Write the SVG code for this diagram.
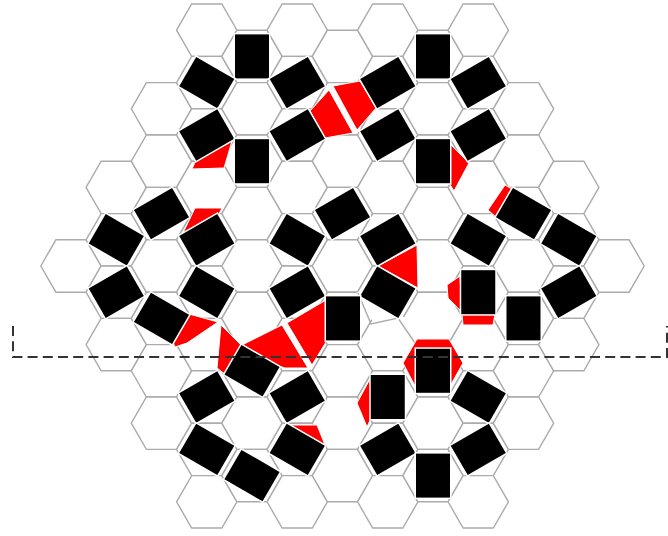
<svg xmlns="http://www.w3.org/2000/svg" xmlns:xlink="http://www.w3.org/1999/xlink" width="668" height="536" viewBox="0 0 668 536">
<style>
.hex{fill:#fff;stroke:#ababab;stroke-width:1.4}
.red{fill:#f00;stroke:#fff;stroke-width:1;stroke-linejoin:round}
.tile{fill:#000;stroke:#fff;stroke-width:3;paint-order:stroke}
.dash{fill:none;stroke:#333;stroke-width:2;stroke-dasharray:10 5.2}
</style>
<defs>
<polygon id="h" class="hex" points="-30.2,0 -15.1,-26.2 15.1,-26.2 30.2,0 15.1,26.2 -15.1,26.2"/>
<rect id="t" class="tile" x="-17" y="-22" width="34" height="44"/>
</defs>
<rect width="668" height="536" fill="#fff"/>
<g id="grid">
<use href="#h" x="71" y="266"/>
<use href="#h" x="116.25" y="187.4"/><use href="#h" x="116.25" y="239.8"/><use href="#h" x="116.25" y="292.2"/><use href="#h" x="116.25" y="344.6"/>
<use href="#h" x="161.5" y="108.8"/><use href="#h" x="161.5" y="161.2"/><use href="#h" x="161.5" y="213.6"/><use href="#h" x="161.5" y="266"/><use href="#h" x="161.5" y="318.4"/><use href="#h" x="161.5" y="370.8"/><use href="#h" x="161.5" y="423.2"/>
<use href="#h" x="206.75" y="30.2"/><use href="#h" x="206.75" y="82.6"/><use href="#h" x="206.75" y="135"/><use href="#h" x="206.75" y="187.4"/><use href="#h" x="206.75" y="239.8"/><use href="#h" x="206.75" y="292.2"/><use href="#h" x="206.75" y="344.6"/><use href="#h" x="206.75" y="397"/><use href="#h" x="206.75" y="449.4"/><use href="#h" x="206.75" y="501.8"/>
<use href="#h" x="252" y="56.4"/><use href="#h" x="252" y="108.8"/><use href="#h" x="252" y="161.2"/><use href="#h" x="252" y="213.6"/><use href="#h" x="252" y="266"/><use href="#h" x="252" y="318.4"/><use href="#h" x="252" y="370.8"/><use href="#h" x="252" y="423.2"/><use href="#h" x="252" y="475.6"/>
<use href="#h" x="297.25" y="30.2"/><use href="#h" x="297.25" y="82.6"/><use href="#h" x="297.25" y="135"/><use href="#h" x="297.25" y="187.4"/><use href="#h" x="297.25" y="239.8"/><use href="#h" x="297.25" y="292.2"/><use href="#h" x="297.25" y="344.6"/><use href="#h" x="297.25" y="397"/><use href="#h" x="297.25" y="449.4"/><use href="#h" x="297.25" y="501.8"/>
<use href="#h" x="342.5" y="56.4"/><use href="#h" x="342.5" y="108.8"/><use href="#h" x="342.5" y="161.2"/><use href="#h" x="342.5" y="213.6"/><use href="#h" x="342.5" y="266"/><use href="#h" x="342.5" y="318.4"/><use href="#h" x="342.5" y="370.8"/><use href="#h" x="342.5" y="423.2"/><use href="#h" x="342.5" y="475.6"/>
<use href="#h" x="387.75" y="30.2"/><use href="#h" x="387.75" y="82.6"/><use href="#h" x="387.75" y="135"/><use href="#h" x="387.75" y="187.4"/><use href="#h" x="387.75" y="239.8"/><use href="#h" x="387.75" y="292.2"/><use href="#h" x="387.75" y="344.6"/><use href="#h" x="387.75" y="397"/><use href="#h" x="387.75" y="449.4"/><use href="#h" x="387.75" y="501.8"/>
<use href="#h" x="433" y="56.4"/><use href="#h" x="433" y="108.8"/><use href="#h" x="433" y="161.2"/><use href="#h" x="433" y="213.6"/><use href="#h" x="433" y="266"/><use href="#h" x="433" y="318.4"/><use href="#h" x="433" y="370.8"/><use href="#h" x="433" y="423.2"/><use href="#h" x="433" y="475.6"/>
<use href="#h" x="478.25" y="30.2"/><use href="#h" x="478.25" y="82.6"/><use href="#h" x="478.25" y="135"/><use href="#h" x="478.25" y="187.4"/><use href="#h" x="478.25" y="239.8"/><use href="#h" x="478.25" y="292.2"/><use href="#h" x="478.25" y="344.6"/><use href="#h" x="478.25" y="397"/><use href="#h" x="478.25" y="449.4"/><use href="#h" x="478.25" y="501.8"/>
<use href="#h" x="523.5" y="108.8"/><use href="#h" x="523.5" y="161.2"/><use href="#h" x="523.5" y="213.6"/><use href="#h" x="523.5" y="266"/><use href="#h" x="523.5" y="318.4"/><use href="#h" x="523.5" y="370.8"/><use href="#h" x="523.5" y="423.2"/>
<use href="#h" x="568.75" y="187.4"/><use href="#h" x="568.75" y="239.8"/><use href="#h" x="568.75" y="292.2"/><use href="#h" x="568.75" y="344.6"/>
<use href="#h" x="614" y="266"/>
</g>
<g id="distorted-edge">
<path d="M358,292L372.7,318.4H403L418,344.6" fill="none" stroke="#fff" stroke-width="3"/>
<path d="M358,293L371,324L398,318L415,343" fill="none" stroke="#ababab" stroke-width="1.4"/>
</g>
<g id="red-pieces">
<polygon class="red" points="232,141 224,168 192,169 196,160"/>
<polygon class="red" points="310,111 329,90 353,133 325,138"/>
<polygon class="red" points="333,86 360,81 376,108 357,130"/>
<polygon class="red" points="450,144 469,163 454,191 449,183"/>
<polygon class="red" points="195,208 222,208 218,216 182,235"/>
<polygon class="red" points="189,314 218,322 187,343 175,347 172,340"/>
<polygon class="red" points="221,325 241,345 226,375 217,368"/>
<polygon class="red" points="242,345 282,325 308,368 285,368 260,360"/>
<polygon class="red" points="287,323 326,300 326,342 312,365"/>
<polygon class="red" points="378,266 417,245 418,288"/>
<polygon class="red" points="505,185 512,189 497,218 488,210"/>
<polygon class="red" points="460,276 462,312 448,298 447,285"/>
<polygon class="red" points="462,314 495,314 493,325 463,325"/>
<polygon class="red" points="417,339 449,339 463,363 449,388 416,388 403,363"/>
<polygon class="red" points="371,377 357,403 367,427 371,418"/>
<polygon class="red" points="290,425 317,425 325,445"/>
</g>
<g id="tiles">
<g id="t01"><use href="#t" transform="translate(252,56.4)"/></g>
<g id="t02"><use href="#t" transform="translate(433,56.4)"/></g>
<g id="t03"><use href="#t" transform="translate(206.75,82.6) rotate(-60)"/></g>
<g id="t04"><use href="#t" transform="translate(297.25,82.6) rotate(60)"/></g>
<g id="t05"><use href="#t" transform="translate(387.75,82.6) rotate(60)"/></g>
<g id="t06"><use href="#t" transform="translate(478.25,82.6) rotate(60)"/></g>
<g id="t07"><use href="#t" transform="translate(206.75,135) rotate(60)"/></g>
<g id="t08"><use href="#t" transform="translate(297.25,135) rotate(60)"/></g>
<g id="t09"><use href="#t" transform="translate(387.75,135) rotate(60)"/></g>
<g id="t10"><use href="#t" transform="translate(478.25,135) rotate(60)"/></g>
<g id="t11"><use href="#t" transform="translate(252,161.2)"/></g>
<g id="t12"><use href="#t" transform="translate(433,161.2)"/></g>
<g id="t13"><use href="#t" transform="translate(161.5,213.6) rotate(60)"/></g>
<g id="t14"><use href="#t" transform="translate(116.25,239.8) rotate(-60)"/></g>
<g id="t15"><use href="#t" transform="translate(206.75,239.8) rotate(60)"/></g>
<g id="t16"><use href="#t" transform="translate(116.25,292.2) rotate(60)"/></g>
<g id="t17"><use href="#t" transform="translate(206.75,292.2) rotate(-60)"/></g>
<g id="t18"><use href="#t" transform="translate(161.5,318.4) rotate(-60)"/></g>
<g id="t19"><use href="#t" transform="translate(297.25,239.8) rotate(-60)"/></g>
<g id="t20"><use href="#t" transform="translate(342.5,213.6) rotate(60)"/></g>
<g id="t21"><use href="#t" transform="translate(387.75,239.8) rotate(60)"/></g>
<g id="t22"><use href="#t" transform="translate(297.25,292.2) rotate(60)"/></g>
<g id="t23"><use href="#t" transform="translate(387.75,292.2) rotate(-60)"/></g>
<g id="t24"><use href="#t" transform="translate(343,318.4)"/></g>
<g id="t25"><use href="#t" transform="translate(478.25,239.8) rotate(-60)"/></g>
<g id="t26"><use href="#t" transform="translate(523.5,213.6) rotate(-60)"/></g>
<g id="t27"><use href="#t" transform="translate(568.75,239.8) rotate(-60)"/></g>
<g id="t28"><use href="#t" transform="translate(568.75,292.2) rotate(60)"/></g>
<g id="t29"><use href="#t" transform="translate(478.25,292.2)"/></g>
<g id="t30"><use href="#t" transform="translate(523.5,318.4)"/></g>
<g id="t31"><use href="#t" transform="translate(252,370.8) rotate(-60)"/></g>
<g id="t32"><use href="#t" transform="translate(206.75,397) rotate(60)"/></g>
<g id="t33"><use href="#t" transform="translate(297.25,397) rotate(60)"/></g>
<g id="t34"><use href="#t" transform="translate(206.75,449.4) rotate(-60)"/></g>
<g id="t35"><use href="#t" transform="translate(252,475.6) rotate(-60)"/></g>
<g id="t36"><use href="#t" transform="translate(297.25,449.4) rotate(-60)"/></g>
<g id="t37"><use href="#t" transform="translate(433,370.8)"/></g>
<g id="t38"><use href="#t" transform="translate(387.75,397)"/></g>
<g id="t39"><use href="#t" transform="translate(478.25,397) rotate(-60)"/></g>
<g id="t40"><use href="#t" transform="translate(387.75,449.4) rotate(60)"/></g>
<g id="t41"><use href="#t" transform="translate(478.25,449.4) rotate(60)"/></g>
<g id="t42"><use href="#t" transform="translate(433,475.6)"/></g>
</g>
<g id="connectors">
<path class="dash" d="M13,326V357H667V326"/>
</g>
</svg>
